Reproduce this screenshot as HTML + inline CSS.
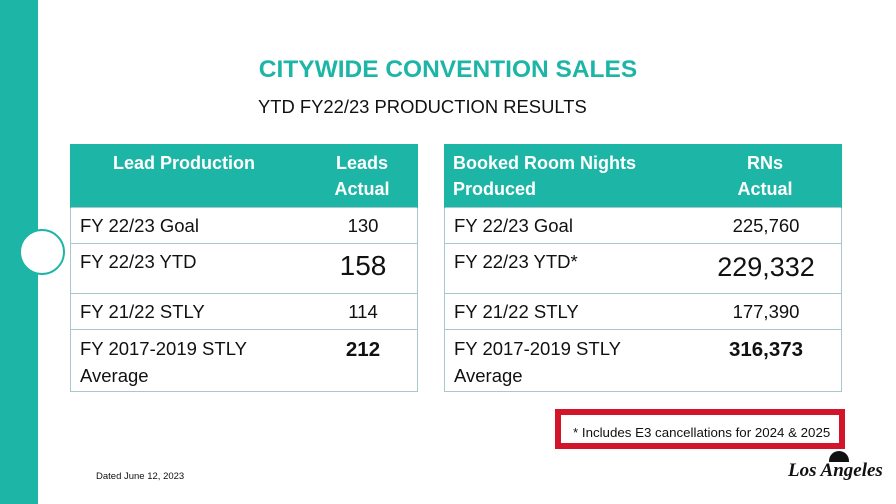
<!DOCTYPE html>
<html><head><style>
body{margin:0;width:896px;height:504px;background:#fff;position:relative;overflow:hidden;font-family:"Liberation Sans",sans-serif;color:#111}
.bar{position:absolute;left:0;top:0;width:38px;height:504px;background:#1db5a6}
.circ{position:absolute;left:19px;top:229px;width:46px;height:46px;border-radius:50%;background:#fff;border:2px solid #1db5a6;box-sizing:border-box}
.t1{position:absolute;left:0;width:896px;top:56px;text-align:center;color:#1db5a6;font-weight:bold;font-size:24.5px}
.t2{position:absolute;left:258px;top:96px;font-size:18.4px}
.tb{position:absolute;top:144px;height:248px;border:1px solid #a9c8cc;box-sizing:border-box}
.hd{position:absolute;left:-1px;right:-1px;top:-1px;height:64px;background:#1db5a6;color:#fff;font-weight:bold;font-size:18px;line-height:26px}
.row{position:absolute;left:0;right:0;border-top:1px solid #a9c8cc;font-size:18.5px}
.row span{position:absolute}
</style></head><body>
<div class="bar"></div><div class="circ"></div>
<div class="t1">CITYWIDE CONVENTION SALES</div>
<div class="t2">YTD FY22/23 PRODUCTION RESULTS</div>

<div class="tb" style="left:70px;width:348px">
<div class="hd"><span style="position:absolute;left:43px;top:6px">Lead Production</span><span style="position:absolute;left:257px;width:70px;top:6px;text-align:center">Leads<br>Actual</span></div>
<div class="row" style="top:62px;height:36px"><span style="left:9px;top:7px">FY 22/23 Goal</span><span style="left:252px;width:80px;text-align:center;top:7px">130</span></div>
<div class="row" style="top:98px;height:50px"><span style="left:9px;top:7px">FY 22/23 YTD</span><span style="left:252px;width:80px;text-align:center;top:6px;font-size:28px">158</span></div>
<div class="row" style="top:148px;height:36px"><span style="left:9px;top:7px">FY 21/22 STLY</span><span style="left:252px;width:80px;text-align:center;top:7px">114</span></div>
<div class="row" style="top:184px;height:62px"><span style="left:9px;top:5px;line-height:27px">FY 2017-2019 STLY<br>Average</span><span style="left:252px;width:80px;text-align:center;top:8px;font-weight:bold;font-size:20.5px">212</span></div>
</div>

<div class="tb" style="left:444px;width:398px">
<div class="hd"><span style="position:absolute;left:9px;top:6px">Booked Room Nights<br>Produced</span><span style="position:absolute;left:281px;width:80px;top:6px;text-align:center">RNs<br>Actual</span></div>
<div class="row" style="top:62px;height:36px"><span style="left:9px;top:7px">FY 22/23 Goal</span><span style="left:261px;width:120px;text-align:center;top:7px">225,760</span></div>
<div class="row" style="top:98px;height:50px"><span style="left:9px;top:7px">FY 22/23 YTD*</span><span style="left:251px;width:140px;text-align:center;top:8px;font-size:27px">229,332</span></div>
<div class="row" style="top:148px;height:36px"><span style="left:9px;top:7px">FY 21/22 STLY</span><span style="left:261px;width:120px;text-align:center;top:7px">177,390</span></div>
<div class="row" style="top:184px;height:62px"><span style="left:9px;top:5px;line-height:27px">FY 2017-2019 STLY<br>Average</span><span style="left:261px;width:120px;text-align:center;top:8px;font-weight:bold;font-size:20.5px">316,373</span></div>
</div>

<div style="position:absolute;left:555px;top:409px;width:290px;height:40px;border:6px solid #d3152b;box-sizing:border-box;font-size:13.3px;padding:10px 0 0 12px">* Includes E3 cancellations for 2024 &amp; 2025</div>
<div style="position:absolute;left:96px;top:471px;font-size:9.5px">Dated June 12, 2023</div>
<div style="position:absolute;left:829px;top:451px;width:20px;height:11px;border-radius:10px 10px 0 0;background:#111"></div>
<div style="position:absolute;left:788px;top:460px;font-family:'Liberation Serif',serif;font-style:italic;font-weight:bold;font-size:19px">Los Angeles</div>
</body></html>
